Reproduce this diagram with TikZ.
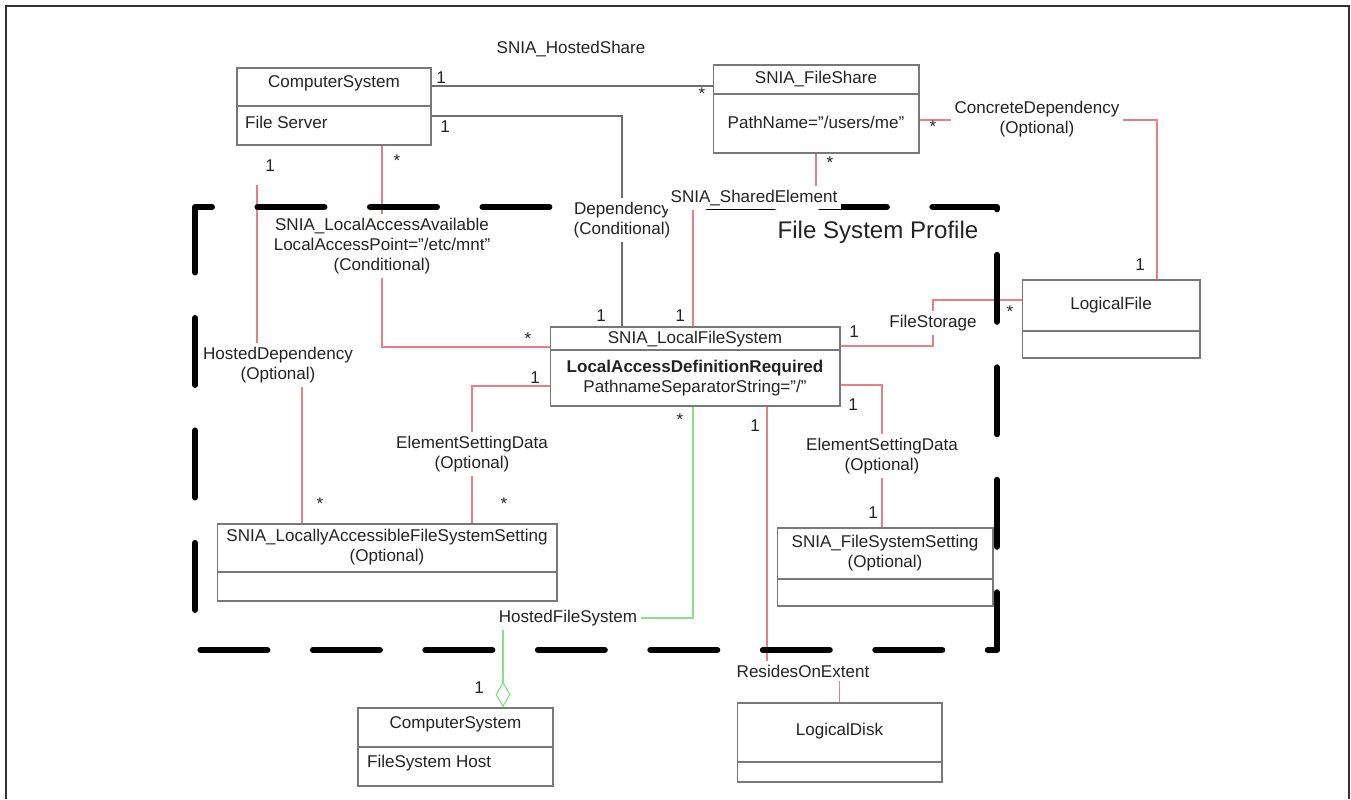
\documentclass[tikz,border=0pt]{standalone}
\usepackage{fontspec}
\setmainfont{Liberation Sans}
\usetikzlibrary{arrows.meta,backgrounds}

\definecolor{assocred}{RGB}{232,126,134}
\definecolor{hostgreen}{RGB}{140,222,140}
\definecolor{linegray}{RGB}{110,110,110}
\definecolor{boxgray}{RGB}{120,120,120}
\definecolor{txt}{RGB}{35,35,35}
\definecolor{framegray}{RGB}{50,50,50}

\begin{document}
\begin{tikzpicture}[x=0.02cm, y=-0.02cm,
  every node/.style={font=\fontsize{9.7}{11.6}\selectfont, text=txt, inner sep=1pt},
  cls/.style={draw=boxgray, line width=0.6pt, inner sep=0pt},
  divider/.style={draw=boxgray, line width=0.6pt},
  lbl/.style={fill=white, align=center, inner sep=2pt},
  mult/.style={inner sep=0pt},
  redline/.style={draw=assocred, line width=0.6pt},
  grayline/.style={draw=linegray, line width=0.6pt},
  greenline/.style={draw=hostgreen, line width=0.7pt},
  profile/.style={line width=0.12cm, line cap=round, line join=round,
    dash pattern=on 1.34cm off 0.91cm, dash phase=1.0cm}
]
\useasboundingbox (0,0) rectangle (1351,799);
\draw[framegray, line width=0.05cm] (6,799) -- (6,6) -- (1349,6) -- (1349,799);

% classes
\node[cls, minimum width=3.88cm, minimum height=1.54cm] (cs) at (334,106.5) {};
\node (cs-t) at (cs.center |- 0,83) {ComputerSystem};
\node[anchor=west] (cs-a) at (243,122) {File Server};
\draw[divider] (cs.west |- 0,106) -- (cs.east |- 0,106);

\node[cls, minimum width=4.12cm, minimum height=1.76cm] (fs) at (816,109) {};
\node (fs-t) at (fs.center |- 0,79) {SNIA\_FileShare};
\node (fs-a) at (fs.center |- 0,122) {PathName="/users/me"};
\draw[divider] (fs.west |- 0,94) -- (fs.east |- 0,94);

\node[cls, minimum width=3.56cm, minimum height=1.56cm] (lf) at (1111,319) {};
\node (lf-t) at (lf.center |- 0,305) {LogicalFile};
\draw[divider] (lf.west |- 0,331) -- (lf.east |- 0,331);

\node[cls, minimum width=5.8cm, minimum height=1.58cm] (lfs) at (695,366.5) {};
\node (lfs-t) at (lfs.center |- 0,339) {SNIA\_LocalFileSystem};
\node (lfs-a) at (lfs.center |- 0,368) {\bfseries LocalAccessDefinitionRequired};
\node (lfs-b) at (lfs.center |- 0,388) {PathnameSeparatorString="/"};
\draw[divider] (lfs.west |- 0,350) -- (lfs.east |- 0,350);

\node[cls, minimum width=6.8cm, minimum height=1.54cm] (lafss) at (387,562.5) {};
\node[align=center] (lafss-t) at (lafss.center |- 0,547) {SNIA\_LocallyAccessibleFileSystemSetting\\(Optional)};
\draw[divider] (lafss.west |- 0,572) -- (lafss.east |- 0,572);

\node[cls, minimum width=4.32cm, minimum height=1.56cm] (fss) at (885,567) {};
\node[align=center] (fss-t) at (fss.center |- 0,553) {SNIA\_FileSystemSetting\\(Optional)};
\draw[divider] (fss.west |- 0,579) -- (fss.east |- 0,579);

\node[cls, minimum width=3.9cm, minimum height=1.56cm] (csh) at (455.5,747) {};
\node (csh-t) at (csh.center |- 0,724) {ComputerSystem};
\node[anchor=west] (csh-a) at (365,763) {FileSystem Host};
\draw[divider] (csh.west |- 0,747) -- (csh.east |- 0,747);

\node[cls, minimum width=4.1cm, minimum height=1.58cm] (ld) at (839.5,742.5) {};
\node (ld-t) at (ld.center |- 0,731) {LogicalDisk};
\draw[divider] (ld.west |- 0,762) -- (ld.east |- 0,762);

% association labels
\node (hsh) at (571,49) {SNIA\_HostedShare};
\node[lbl] (dep) at (622,220) {Dependency\\(Conditional)};
\node[lbl] (laa) at (382,246) {SNIA\_LocalAccessAvailable\\LocalAccessPoint="/etc/mnt"\\(Conditional)};
\node[lbl] (hdep) at (278,365) {HostedDependency\\(Optional)};
\node[lbl] (esd1) at (472,454) {ElementSettingData\\(Optional)};
\node[lbl] (se) at (754,198) {SNIA\_SharedElement};
\node[lbl] (cdep) at (1037,119) {ConcreteDependency\\(Optional)};
\node[lbl] (fst) at (933,323) {FileStorage};
\node[lbl] (esd2) at (882,456) {ElementSettingData\\(Optional)};
\node[lbl] (hfs) at (568,618) {HostedFileSystem};
\node[lbl] (roe) at (803,671) {ResidesOnExtent};
\node[font=\fontsize{13.7}{16}\selectfont] (fsp) at (878,232) {File System Profile};

% multiplicities
\node[mult] (m1) at (441,78) {1};
\node[mult] (m2) at (702,94) {*};
\node[mult] (m3) at (445,127) {1};
\node[mult] (m4) at (270,166) {1};
\node[mult] (m5) at (397,161) {*};
\node[mult] (m6) at (830,163) {*};
\node[mult] (m7) at (933,127) {*};
\node[mult] (m8) at (1140,265) {1};
\node[mult] (m9) at (601,316) {1};
\node[mult] (m10) at (680,316) {1};
\node[mult] (m11) at (528,339) {*};
\node[mult] (m12) at (535,378) {1};
\node[mult] (m13) at (854,332) {1};
\node[mult] (m14) at (1010,312) {*};
\node[mult] (m15) at (853,405) {1};
\node[mult] (m16) at (680,420) {*};
\node[mult] (m17) at (755,426) {1};
\node[mult] (m18) at (320,504) {*};
\node[mult] (m19) at (504,504) {*};
\node[mult] (m20) at (873,513) {1};
\node[mult] (m21) at (479,688) {1};

\begin{scope}[on background layer]
\coordinate (hdtop) at (257,185);
\draw[grayline] (cs.east |- 0,86) -- (fs.west |- 0,86);
\draw[grayline] (cs.east |- 0,116) -| (dep.north);
\draw[grayline] (dep.south) -- (dep.south |- lfs.north);
\draw[redline] (cs.south -| laa.north) -- (laa.north);
\draw[redline] (laa.south) |- (lfs.west |- 0,347);
\draw[redline] (hdtop) -- (hdtop |- hdep.north);
\draw[redline] (hdep.south -| 302,0) -- (lafss.north -| 302,0);
\draw[redline] (lfs.west |- 0,386) -| (esd1.north);
\draw[redline] (esd1.south) -- (esd1.south |- lafss.north);
\draw[redline] (fs.south) -- (fs.south |- se.north);
\draw[redline] (se.south -| 693,0) -- (lfs.north -| 693,0);
\draw[redline] (fs.east |- 0,120) -- (cdep.west |- 0,120);
\draw[redline] (cdep.east |- 0,120) -| (lf.north -| 1157,0);
\draw[redline] (lfs.east |- 0,346) -| (fst.south);
\draw[redline] (fst.north) |- (lf.west |- 0,300);
\draw[redline] (lfs.east |- 0,385) -| (esd2.north);
\draw[redline] (esd2.south) -- (esd2.south |- fss.north);
\draw[greenline] (lfs.south -| 693,0) |- (hfs.east);
\draw[greenline, -{Diamond[open, length=0.52cm, width=0.3cm]}] (hfs.south -| 503,0) -- (csh.north -| 503,0);
\draw[redline] (lfs.south -| 767,0) -- (roe.north -| 767,0);
\draw[redline] (roe.south -| ld.north) -- (ld.north);
% profile boundary
\draw[profile] (195,207) -- (997,207) -- (997,650) -- (195,650) -- cycle;
\end{scope}
\end{tikzpicture}
\end{document}
